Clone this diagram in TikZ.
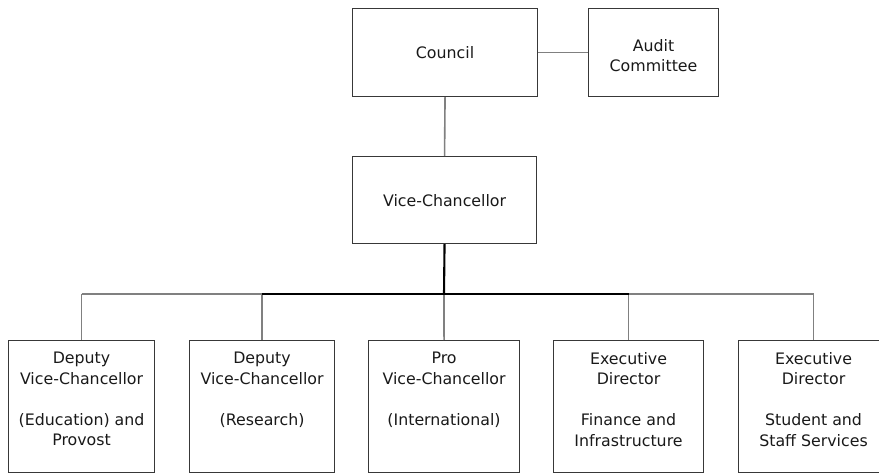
\documentclass[tikz,border=0pt]{standalone}
\usepackage{fontspec}
\setmainfont{DejaVu Sans}
\begin{document}
\begin{tikzpicture}[x=1pt,y=-1pt,
  box/.style={draw=black!78, line width=1.1pt, rectangle, inner sep=0pt, anchor=north west},
  label/.style={inner sep=0pt, align=center, text=black!90,
    font=\fontsize{15.8}{20.5}\selectfont},
  conn/.style={draw=black!50, line width=1.6pt},
  trunk/.style={draw=black, line width=2.1pt}
]
\useasboundingbox (0,0) rectangle (879,473);

% top tier
\node[box, minimum width=185pt, minimum height=88pt] (council) at (352,8) {};
\node[label] (councilT) at (council.center) {Council};
\node[box, minimum width=130pt, minimum height=88pt] (audit) at (588,8) {};
\node[label] (auditT) at ([yshift=-3pt]audit.center) {Audit\\Committee};

\node[box, minimum width=184pt, minimum height=87pt] (vc) at (352,156) {};
\node[label] (vcT) at ([yshift=-1pt]vc.center) {Vice-Chancellor};

% bottom tier, text set from the top
\node[box, minimum width=146pt, minimum height=132pt] (dvce) at (8,340) {};
\node[box, minimum width=145pt, minimum height=132pt] (dvcr) at (189,340) {};
\node[box, minimum width=151pt, minimum height=132pt] (pvci) at (368,340) {};
\node[box, minimum width=150pt, minimum height=132pt] (edfi) at (553,340) {};
\node[box, minimum width=150pt, minimum height=132pt] (edss) at (738,340) {};

\node[label, anchor=north] (dvceT) at ([yshift=-12pt]dvce.north) {Deputy\\Vice-Chancellor\\[20.5pt](Education) and\\Provost};
\node[label, anchor=north] (dvcrT) at ([yshift=-12pt]dvcr.north) {Deputy\\Vice-Chancellor\\[20.5pt](Research)};
\node[label, anchor=north] (pvciT) at ([yshift=-12pt]pvci.north) {Pro\\Vice-Chancellor\\[20.5pt](International)};
\node[label, anchor=north] (edfiT) at ([yshift=-12pt]edfi.north) {Executive\\Director\\[20.5pt]Finance and\\Infrastructure};
\node[label, anchor=north] (edssT) at ([yshift=-12pt]edss.north) {Executive\\Director\\[20.5pt]Student and\\Staff Services};

% bus line
\coordinate (bus) at (444,294);
\coordinate (busL) at (dvce.north |- bus);
\coordinate (busR) at (edss.north |- bus);
\coordinate (busA) at (dvcr.north |- bus);
\coordinate (busB) at (edfi.north |- bus);

% connectors
\draw[conn] (council.east) -- (audit.west);
\draw[conn] (council.south) -- (vc.north);
\draw[conn] (busL) -- (busA);
\draw[conn] (busB) -- (busR);
\draw[conn] (busL) -- (dvce.north);
\draw[conn] (busA) -- (dvcr.north);
\draw[conn] (bus) -- (pvci.north);
\draw[conn] (busB) -- (edfi.north);
\draw[conn] (busR) -- (edss.north);
\draw[trunk] (vc.south) -- (bus);
\draw[trunk] (busA) -- (busB);
\end{tikzpicture}
\end{document}
